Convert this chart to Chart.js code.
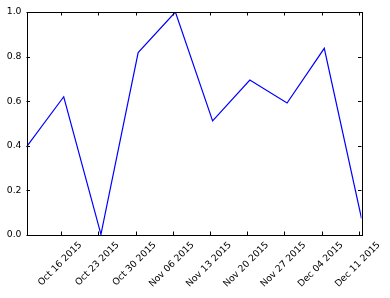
<!DOCTYPE html>
<html>
<head>
<meta charset="utf-8">
<script src="https://cdn.jsdelivr.net/npm/chart.js@4"></script>
<style>
  body { margin: 0; background: #fff; }
</style>
</head>
<body>
<canvas id="myChart" width="390" height="298"></canvas>
<script>
const pointDates = [
  "2015-10-09T12:00:00Z", "2015-10-16T12:00:00Z", "2015-10-23T12:00:00Z",
  "2015-10-30T12:00:00Z", "2015-11-06T12:00:00Z", "2015-11-13T12:00:00Z",
  "2015-11-20T12:00:00Z", "2015-11-27T12:00:00Z", "2015-12-04T12:00:00Z",
  "2015-12-11T12:00:00Z",
];
const values = [0.395, 0.62, 0.003, 0.818, 1.0, 0.512, 0.695, 0.592, 0.837, 0.075];

const tickDates = [
  "2015-10-16T00:00:00Z", "2015-10-23T00:00:00Z", "2015-10-30T00:00:00Z",
  "2015-11-06T00:00:00Z", "2015-11-13T00:00:00Z", "2015-11-20T00:00:00Z",
  "2015-11-27T00:00:00Z", "2015-12-04T00:00:00Z", "2015-12-11T00:00:00Z",
];
const tickLabels = [
  "Oct 16 2015", "Oct 23 2015", "Oct 30 2015", "Nov 06 2015", "Nov 13 2015",
  "Nov 20 2015", "Nov 27 2015", "Dec 04 2015", "Dec 11 2015",
];
const yTicks = [0, 0.2, 0.4, 0.6, 0.8, 1.0];

// days since Oct 9 2015
const origin = Date.parse("2015-10-09T00:00:00Z");
const toDay = (d) => (Date.parse(d) - origin) / 864e5;

const points = pointDates.map((d, i) => ({ x: toDay(d), y: values[i] }));
const tickDays = tickDates.map(toDay);

const FONT = "DejaVu Sans";

// matplotlib-ish frame, inward ticks and centred rotated date labels
const framePlugin = {
  id: "frame",
  afterDraw(chart) {
    const { ctx, chartArea: a, scales } = chart;
    const x = scales.x, y = scales.y;
    const tl = 3.5;
    ctx.save();
    ctx.strokeStyle = "#000";
    ctx.lineWidth = 1;
    ctx.beginPath();
    tickDays.forEach((d) => {
      const px = Math.round(x.getPixelForValue(d)) + 0.5;
      ctx.moveTo(px, a.bottom); ctx.lineTo(px, a.bottom - tl);
      ctx.moveTo(px, a.top); ctx.lineTo(px, a.top + tl);
    });
    yTicks.forEach((v) => {
      const py = Math.round(y.getPixelForValue(v)) + 0.5;
      ctx.moveTo(a.left, py); ctx.lineTo(a.left + tl, py);
      ctx.moveTo(a.right, py); ctx.lineTo(a.right - tl, py);
    });
    ctx.stroke();
    ctx.strokeRect(Math.round(a.left) + 0.5, Math.round(a.top) + 0.5,
      Math.round(a.right - a.left), Math.round(a.bottom - a.top));

    ctx.fillStyle = "#000";
    ctx.font = "9.3px '" + FONT + "'";
    ctx.textAlign = "center";
    ctx.textBaseline = "middle";
    tickDays.forEach((d, i) => {
      const w = ctx.measureText(tickLabels[i]).width;
      const h = 10;
      const half = (w + h) / Math.SQRT2 / 2;
      const px = x.getPixelForValue(d) - 1;
      ctx.save();
      ctx.translate(px, a.bottom + 5 + half);
      ctx.rotate(-Math.PI / 4);
      ctx.fillText(tickLabels[i], 0, 0);
      ctx.restore();
    });
    ctx.restore();
  },
};

const ctx = document.getElementById("myChart").getContext("2d");

const config = {
  type: "line",
  data: {
    datasets: [
      {
        data: points,
        borderColor: "#0000ff",
        borderWidth: 1.2,
        pointRadius: 0,
        tension: 0,
        fill: false,
      },
    ],
  },
  options: {
    responsive: false,
    animation: false,
    devicePixelRatio: 1,
    layout: { padding: { top: 12, right: 28.5, bottom: 0, left: 0 } },
    plugins: {
      legend: { display: false },
      tooltip: { enabled: false },
    },
    scales: {
      x: {
        type: "linear",
        min: toDay(pointDates[0]),
        max: toDay(pointDates[pointDates.length - 1]),
        afterBuildTicks: (s) => {
          s.ticks = tickDays.map((v) => ({ value: v }));
        },
        afterFit: (s) => {
          s.height = 63;
        },
        grid: { display: false, drawTicks: false, tickLength: 0 },
        border: { display: false },
        ticks: { display: false },
      },
      y: {
        min: 0,
        max: 1,
        afterBuildTicks: (s) => {
          s.ticks = yTicks.map((v) => ({ value: v }));
        },
        afterFit: (s) => {
          s.width = 26.5;
        },
        grid: { display: false, drawTicks: false, tickLength: 0 },
        border: { display: false },
        ticks: {
          padding: 5,
          color: "#000",
          font: { family: FONT, size: 9.3 },
          callback: (v) => v.toFixed(1),
        },
      },
    },
  },
  plugins: [framePlugin],
};

const myChart = new Chart(ctx, config);
</script>
</body>
</html>
